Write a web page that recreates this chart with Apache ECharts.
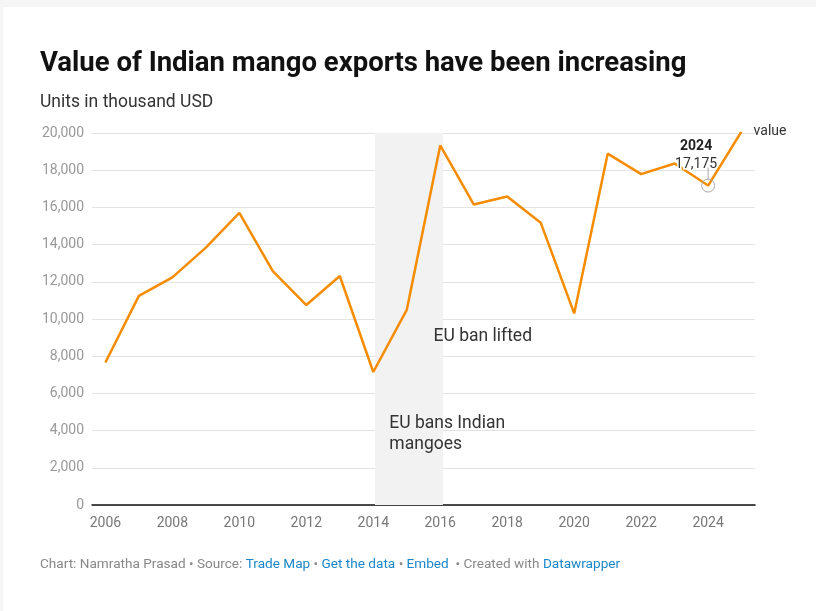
<!DOCTYPE html>
<html>
<head>
<meta charset="utf-8">
<script src="https://cdn.jsdelivr.net/npm/echarts@6/dist/echarts.min.js"></script>
<style>
  html, body { margin:0; padding:0; background:#f5f5f5; width:816px; height:611px; overflow:hidden; }
  #main { position:absolute; left:3px; top:7px; width:813px; height:604px; background:#fff; }
</style>
</head>
<body>
<div id="main"></div>
<script>
// ---- data ----
const years = [2006,2007,2008,2009,2010,2011,2012,2013,2014,2015,2016,2017,2018,2019,2020,2021,2022,2023,2024,2025];
const values = [7660,11240,12240,13840,15700,12580,10750,12310,7150,10490,19330,16160,16590,15180,10300,18890,17790,18360,17175,20090];
const xTickLabels = [2006,2008,2010,2012,2014,2016,2018,2020,2022,2024];
const banPeriod = [2014.05, 2016.08];
const banText = 'EU bans Indian\nmangoes';
const banAnchor = [2014.48, 4950];
const liftText = 'EU ban lifted';
const liftAnchor = [2015.8, 9600];
const highlightYear = 2024;
const highlightValue = 17175;

const fmt = v => String(v).replace(/\B(?=(\d{3})+(?!\d))/g, ',');
const FONT = 'Roboto, "Noto Sans", sans-serif';

const chart = echarts.init(document.getElementById('main'), null, {renderer:'canvas'});
chart.setOption({
  backgroundColor: '#fff',
  animation: false,
  textStyle: { fontFamily: FONT },
  title: [
    { text: 'Value of Indian mango exports have been increasing', left: 37, top: 43, padding: 0,
      textStyle: { fontSize: 27.5, fontWeight: 'bold', color: '#111', fontFamily: FONT } },
    { text: 'Units in thousand USD', left: 37, top: 87, padding: 0,
      textStyle: { fontSize: 17.5, fontWeight: 'normal', color: '#333', fontFamily: FONT } },
    { text: '{g|Chart: Namratha Prasad • Source: }{b|Trade Map}{g| • }{b|Get the data}{g| • }{b|Embed}{g|  • Created with }{b|Datawrapper}',
      left: 37, top: 551, padding: 0,
      textStyle: { fontSize: 13.6, fontWeight: 'normal', fontFamily: FONT,
        rich: { g: { color: '#888', fontSize: 13.6, fontWeight: 'normal', fontFamily: FONT },
                b: { color: '#1b87c9', fontSize: 13.6, fontWeight: 'normal', fontFamily: FONT } } } }
  ],
  grid: { left: 89, right: 61, top: 126, bottom: 106, containLabel: false },
  xAxis: {
    type: 'value', min: 2005.6, max: 2025.4,
    splitLine: { show: false },
    axisTick: { show: false },
    axisLine: { show: true, onZero: false, lineStyle: { color: '#111', width: 1.5 } },
    axisLabel: { customValues: xTickLabels, formatter: v => String(Math.round(v)),
      color: '#777', fontSize: 14, margin: 11, fontFamily: FONT }
  },
  yAxis: {
    type: 'value', min: 0, max: 20000, interval: 2000,
    axisLine: { show: false }, axisTick: { show: false },
    splitLine: { lineStyle: { color: '#e3e3e3', width: 1 } },
    axisLabel: { formatter: v => fmt(v), color: '#999', fontSize: 14, margin: 8, fontFamily: FONT }
  },
  series: [{
    type: 'line',
    name: 'value',
    data: years.map((y, i) => [y, values[i]]),
    symbol: 'none',
    lineStyle: { color: '#f58c00', width: 2.5 },
    itemStyle: { color: '#f58c00' },
    z: 3,
    endLabel: { show: true, formatter: 'value', color: '#333', fontSize: 14, distance: 12, fontFamily: FONT },
    markArea: {
      silent: true,
      itemStyle: { color: '#f2f2f2' },
      data: [[{ xAxis: banPeriod[0] }, { xAxis: banPeriod[1] }]]
    },
    markPoint: {
      silent: true,
      data: [
        { coord: banAnchor, symbol: 'circle', symbolSize: 0,
          label: { show: true, formatter: banText, position: [0, 0], align: 'left', verticalAlign: 'top',
            color: '#333', fontSize: 17.5, lineHeight: 21, fontFamily: FONT } },
        { coord: liftAnchor, symbol: 'circle', symbolSize: 0,
          label: { show: true, formatter: liftText, position: [0, 0], align: 'left', verticalAlign: 'top',
            color: '#333', fontSize: 17.5, lineHeight: 21, fontFamily: FONT } },
        { coord: [highlightYear, highlightValue], symbol: 'rect', symbolSize: [1, 12], symbolOffset: [0, -12],
          itemStyle: { color: '#aaa' }, label: { show: false } },
        { coord: [highlightYear, highlightValue], symbol: 'circle', symbolSize: 13,
          itemStyle: { color: 'rgba(255,255,255,0)', borderColor: '#aaa', borderWidth: 1 },
          label: { show: true, position: 'top', distance: 6, offset: [-12, 0],
            formatter: '{y|' + highlightYear + '}\n{v|' + fmt(highlightValue) + '}',
            rich: {
              y: { fontWeight: 'bold', fontSize: 14, color: '#222', align: 'center', lineHeight: 18,
                   textBorderColor: '#fff', textBorderWidth: 3, fontFamily: FONT },
              v: { fontSize: 14, color: '#333', align: 'center', lineHeight: 17,
                   textBorderColor: '#fff', textBorderWidth: 3, fontFamily: FONT }
            } } }
      ]
    }
  }]
});
</script>
</body>
</html>
